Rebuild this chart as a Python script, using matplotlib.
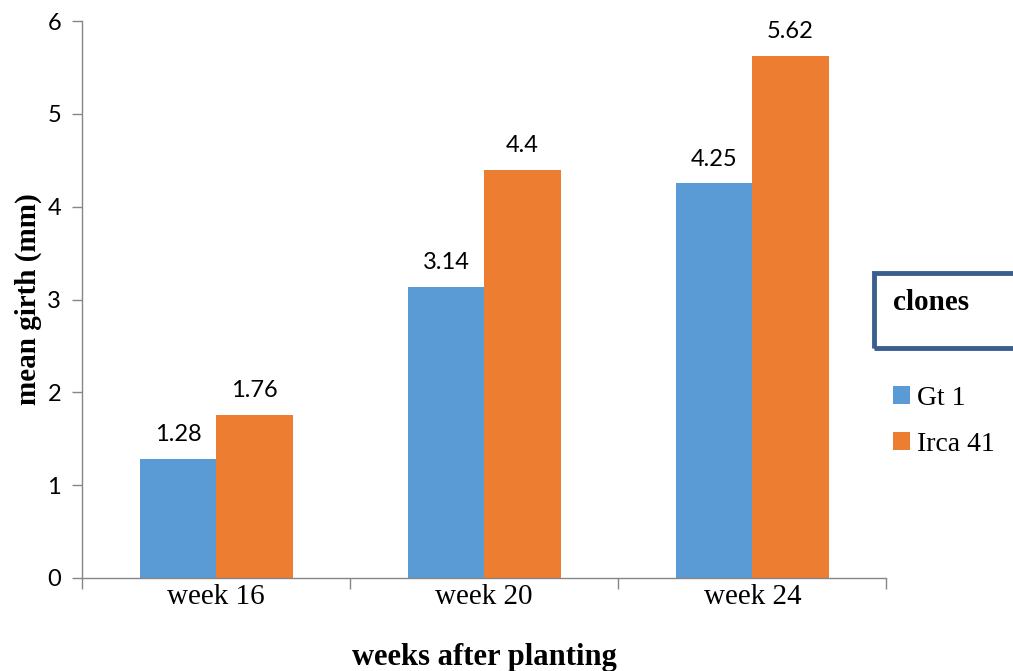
import numpy as np
import matplotlib
matplotlib.use("Agg")
import matplotlib.pyplot as plt
from matplotlib.patches import Rectangle

# mean girth per clone at each sampling week
weeks = ["week 16", "week 20", "week 24"]
gt1 = [1.28, 3.14, 4.25]
irca41 = [1.76, 4.4, 5.62]
clones = ["Gt 1", "Irca 41"]
colors = ["#5B9BD5", "#ED7D31"]

serif = "Liberation Serif"
sans = "Lato"

fig = plt.figure(figsize=(10.13, 6.71), dpi=100)
ax = fig.add_axes([0.081, 0.1386, 0.794, 0.8301])

x = np.arange(len(weeks))
w = 0.285
bars1 = ax.bar(x - w / 2, gt1, w, color=colors[0], label=clones[0])
bars2 = ax.bar(x + w / 2, irca41, w, color=colors[1], label=clones[1])

for bars, vals in [(bars1, gt1), (bars2, irca41)]:
    for b, v in zip(bars, vals):
        ax.annotate(f"{v:g}", (b.get_x() + b.get_width() / 2, v),
                    xytext=(0, 10), textcoords="offset points",
                    ha="center", va="bottom", fontsize=17, family=sans)

ax.set_xlim(-0.5, 2.5)
ax.set_ylim(0, 6)
ax.set_yticks(range(7))
ax.set_yticklabels([str(i) for i in range(7)], fontsize=17, family=sans)

# category labels centred, tick marks at category boundaries
ax.set_xticks(x)
ax.set_xticklabels(weeks, fontsize=21, family=serif)
ax.tick_params(axis="x", length=0, pad=4)
ax.set_xticks(np.arange(-0.5, 3, 1), minor=True)
ax.tick_params(axis="x", which="minor", length=8, color="#868686", width=1)
ax.tick_params(axis="y", length=7, color="#868686", width=1, pad=8)

for s in ["top", "right"]:
    ax.spines[s].set_visible(False)
for s in ["left", "bottom"]:
    ax.spines[s].set_color("#868686")
    ax.spines[s].set_linewidth(1)

ax.set_xlabel("weeks after planting", fontsize=22, family=serif,
              fontweight="bold", labelpad=24)
ax.set_ylabel("mean girth (mm)", fontsize=21, family=serif,
              fontweight="bold", labelpad=4)

# boxed legend title
fig.patches.append(Rectangle((874 / 1013, 1 - 348 / 671), 160 / 1013, 75 / 671,
                             transform=fig.transFigure, fill=False,
                             edgecolor="#3A5F8F", linewidth=3.5))
fig.text(893 / 1013, 1 - 303 / 671, "clones", fontsize=21, family=serif,
         fontweight="bold", va="center")

leg = fig.legend(handles=[bars1, bars2], labels=clones,
                 loc="upper left", bbox_to_anchor=(893 / 1013, 1 - 386 / 671),
                 frameon=False, prop={"family": serif, "size": 20},
                 borderpad=0, borderaxespad=0,
                 handlelength=0.6, handleheight=0.6, handletextpad=0.25,
                 labelspacing=0.75)

fig.savefig("out.png", dpi=100)
